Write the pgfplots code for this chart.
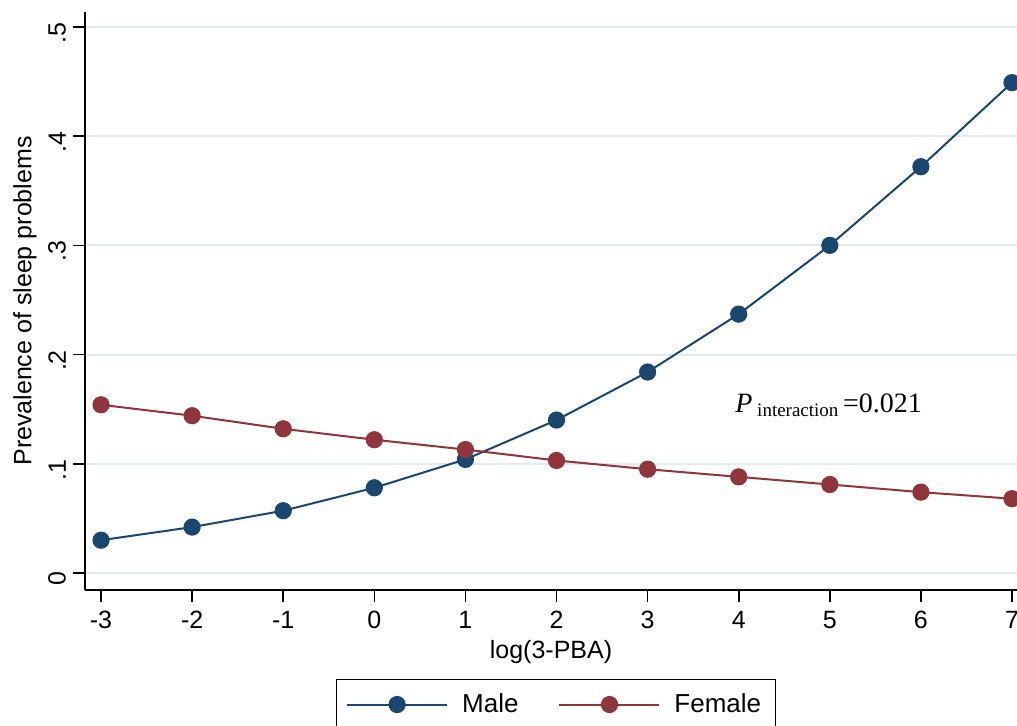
\documentclass[border=0pt]{standalone}
\usepackage{fontspec}
\setmainfont{Liberation Sans}
\newfontfamily\timesfont{Liberation Serif}
\usepackage{pgfplots}
\pgfplotsset{compat=1.18}
\definecolor{stnavy}{HTML}{1A476F}
\definecolor{stmaroon}{HTML}{90353B}
\definecolor{stgrid}{RGB}{226,236,239}

\begin{document}
\begin{tikzpicture}
\begin{scope}
\clip (-42.5pt,-68pt) rectangle (466pt,295pt);
\begin{axis}[
  at={(0,0)}, anchor=south west,
  scale only axis, width=466pt, height=289pt,
  xmin=-3.176, xmax=7.055, ymin=-0.0156, ymax=0.5137,
  axis lines*=left,
  axis line style={black, line width=0.8pt},
  xtick={-3,-2,-1,0,1,2,3,4,5,6,7},
  xticklabels={-3,-2,-1,0,1,2,3,4,5,6,7},
  ytick={0,0.1,0.2,0.3,0.4,0.5},
  yticklabels={0,.1,.2,.3,.4,.5},
  /pgf/number format/assume math mode=true,
  tick align=outside, major tick length=6pt,
  tick style={black, line width=0.8pt},
  ymajorgrids, grid style={color=stgrid, line width=1pt},
  tick label style={font=\fontsize{12.5}{15}\selectfont},
  xticklabel style={yshift=-1pt},
  yticklabel style={rotate=90, anchor=south, xshift=-3pt},
  xlabel={log(3-PBA)},
  ylabel={Prevalence of sleep problems},
  label style={font=\fontsize{12.5}{15}\selectfont},
  xlabel style={at={(axis description cs:0.5,-0.107)}, anchor=center},
  ylabel style={at={(axis description cs:-0.0644,0.5)}, anchor=center},
  legend style={at={(axis description cs:0.505,-0.154)}, anchor=north,
    draw=black, line width=0.6pt, font=\fontsize{13}{15}\selectfont,
    legend columns=2, column sep=5pt, inner xsep=5pt, inner ysep=5pt,
    nodes={inner xsep=2pt},
    /tikz/every even column/.append style={column sep=18pt}},
  legend image code/.code={\draw[mark repeat=2, mark phase=2, #1]
    plot coordinates {(0pt,0pt) (25pt,0pt) (50pt,0pt)};},
  clip=false,
]
\addplot[stnavy, line width=1pt, mark=*, mark size=3.8pt, mark options={fill=stnavy}]
  coordinates {(-3,0.030) (-2,0.042) (-1,0.057) (0,0.078) (1,0.104) (2,0.140)
               (3,0.184) (4,0.237) (5,0.300) (6,0.372) (7,0.449)};
\addlegendentry{Male}
\addplot[stmaroon, line width=1pt, mark=*, mark size=3.8pt, mark options={fill=stmaroon}]
  coordinates {(-3,0.154) (-2,0.144) (-1,0.132) (0,0.122) (1,0.113) (2,0.103)
               (3,0.095) (4,0.088) (5,0.081) (6,0.074) (7,0.068)};
\addlegendentry{Female}
\node[anchor=base west, inner sep=0pt, font=\timesfont\fontsize{14}{16}\selectfont]
  at (axis cs:3.96,0.147)
  {\textit{P}\,\raisebox{-0.35ex}{\fontsize{9.5}{11}\selectfont interaction}\,=0.021};
\end{axis}
\end{scope}
\pgfresetboundingbox
\useasboundingbox (-42.5pt,-68pt) rectangle (466pt,295pt);
\end{tikzpicture}
\end{document}
